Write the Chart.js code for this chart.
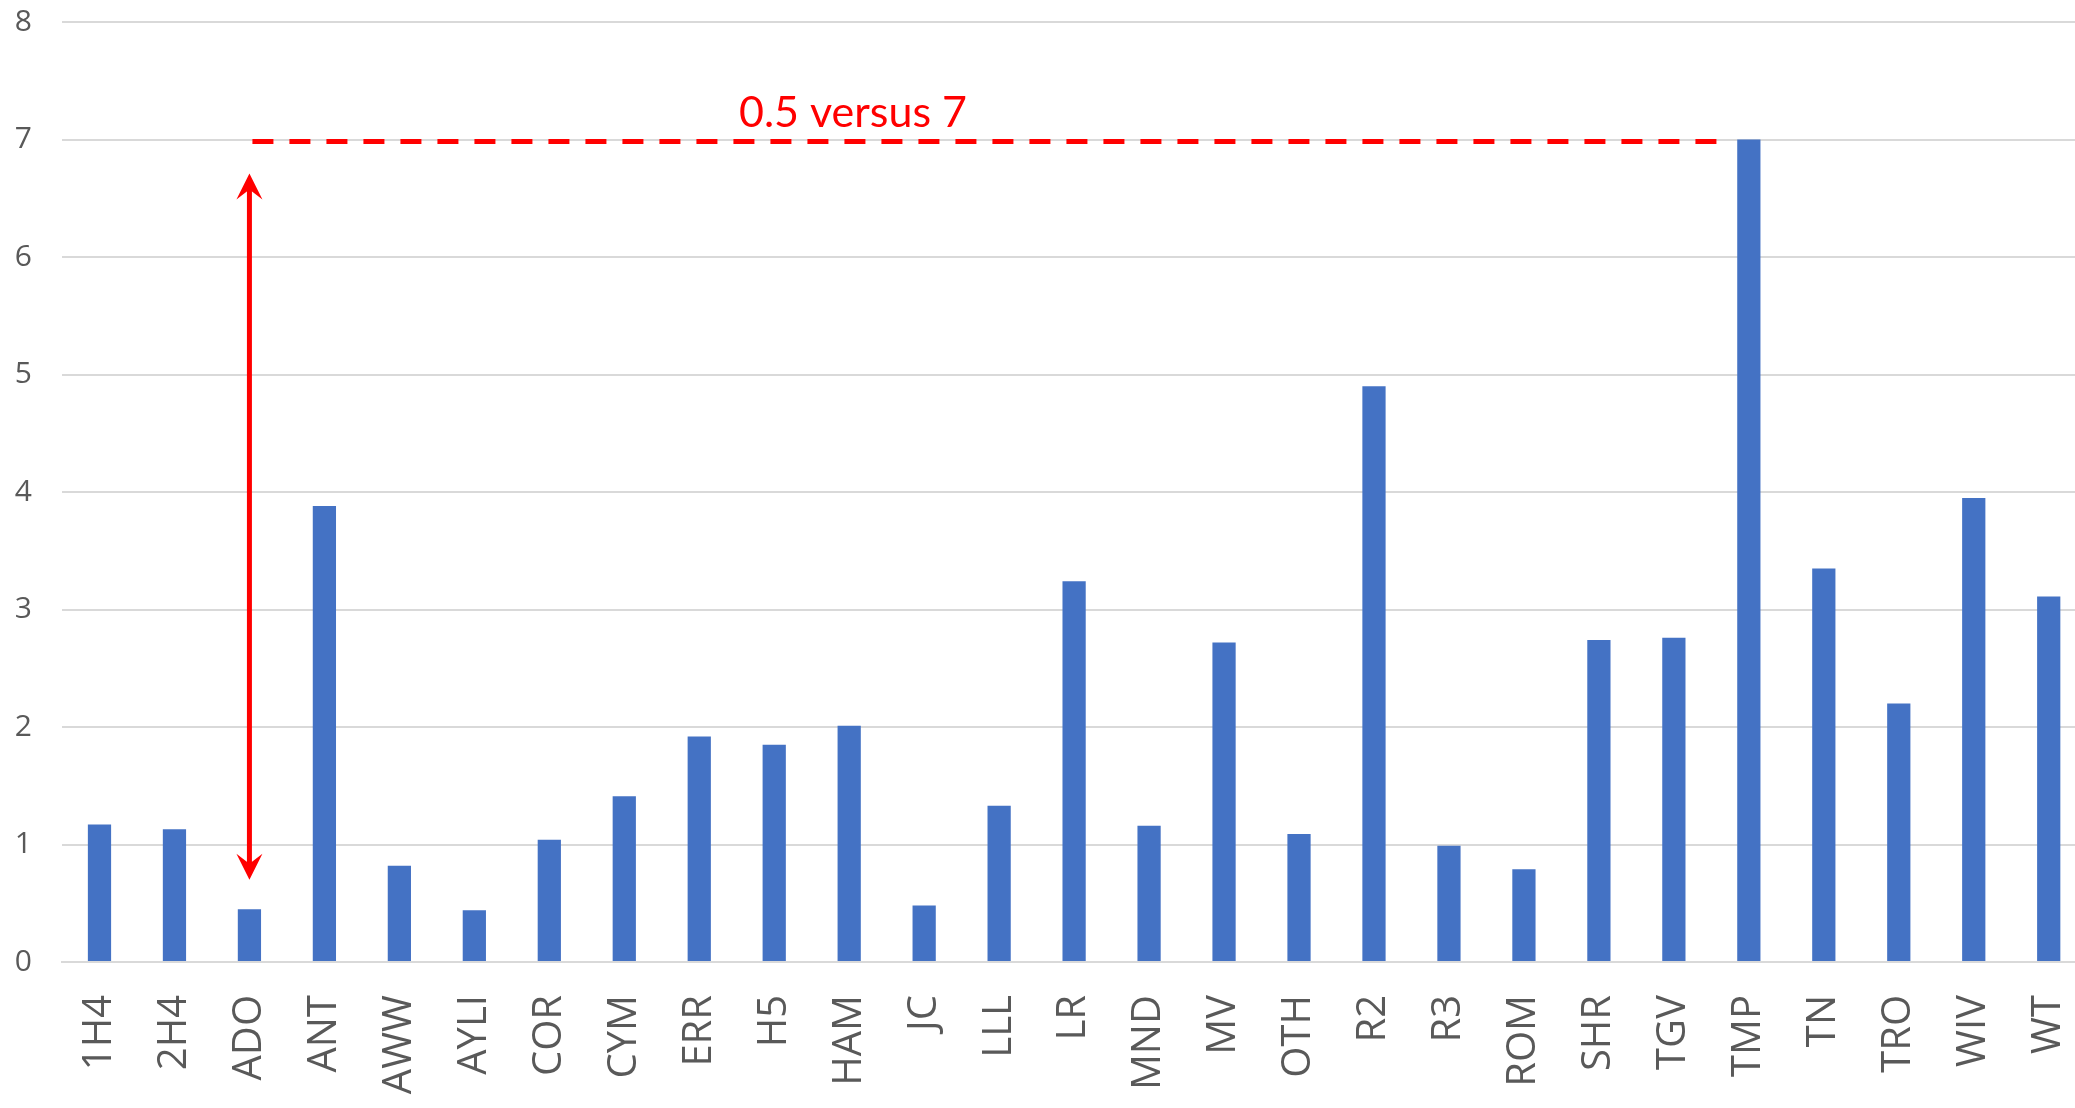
<!DOCTYPE html>
<html lang="en">
  <head>
    <meta charset="utf-8">
    <script src="https://cdn.jsdelivr.net/npm/chart.js@4.4.1/dist/chart.umd.min.js"></script>
    <title>0.5 versus 7</title>
    <style>
      body { margin:0; background:#fff; overflow:hidden; }
      #wrap { width:2130px; height:1137px; margin-top:-29px; }
    </style>
  </head>
  <body>
    <div id="wrap"><canvas id="myChart" width="2130" height="1137"></canvas></div>

    <script>
      // data
      var labels = ['1H4','2H4','ADO','ANT','AWW','AYLI','COR','CYM','ERR','H5','HAM','JC','LLL','LR',
                    'MND','MV','OTH','R2','R3','ROM','SHR','TGV','TMP','TN','TRO','WIV','WT'];
      var values = [1.17,1.13,0.45,3.88,0.82,0.44,1.04,1.41,1.92,1.85,2.01,0.48,1.33,3.24,
                    1.16,2.72,1.09,4.90,0.99,0.79,2.74,2.76,7.0,3.35,2.20,3.95,3.11];
      var yTicks = [0,1,2,3,4,5,6,7,8];

      // annotation: from ADO (0.5) up to the TMP level (7)
      var noteText = '0.5 versus 7';
      var lowIndex = 2;
      var highValue = 7;
      var arrowTop = 6.71;
      var arrowBottom = 0.70;
      var dashEnd = 21.59;
      var textAt = 10.05;

      var red = '#FF0000';

      var notePlugin = {
        id: 'note',
        afterDatasetsDraw: function(chart) {
          var ctx = chart.ctx;
          var xs = chart.scales.x, ys = chart.scales.y;
          var xa = xs.getPixelForValue(lowIndex);
          var yh = ys.getPixelForValue(highValue) + 2;
          ctx.save();
          // dashed line
          ctx.strokeStyle = red;
          ctx.lineWidth = 5;
          ctx.setLineDash([21, 16]);
          ctx.beginPath();
          ctx.moveTo(xa + 3, yh);
          ctx.lineTo(xs.getPixelForValue(dashEnd), yh);
          ctx.stroke();
          ctx.setLineDash([]);

          // double arrow
          var yt = ys.getPixelForValue(arrowTop);
          var yb = ys.getPixelForValue(arrowBottom);
          ctx.lineWidth = 5;
          ctx.beginPath();
          ctx.moveTo(xa, yt + 15);
          ctx.lineTo(xa, yb - 15);
          ctx.stroke();
          ctx.fillStyle = red;
          ctx.beginPath();
          ctx.moveTo(xa, yt);
          ctx.lineTo(xa + 13, yt + 26);
          ctx.lineTo(xa, yt + 16);
          ctx.lineTo(xa - 13, yt + 26);
          ctx.closePath();
          ctx.fill();
          ctx.beginPath();
          ctx.moveTo(xa, yb);
          ctx.lineTo(xa + 13, yb - 26);
          ctx.lineTo(xa, yb - 16);
          ctx.lineTo(xa - 13, yb - 26);
          ctx.closePath();
          ctx.fill();

          // label
          ctx.font = '43px Lato';
          ctx.textAlign = 'center';
          ctx.textBaseline = 'alphabetic';
          ctx.fillText(noteText, xs.getPixelForValue(textAt), yh - 15);
          ctx.restore();
        }
      };

      var myChart = document.getElementById('myChart').getContext('2d');
      var chart = new Chart(myChart, {
        type: 'bar',
        data: {
          labels: labels,
          datasets: [{
            data: values,
            backgroundColor: '#4472C4',
            categoryPercentage: 1,
            barPercentage: 0.31
          }]
        },
        options: {
          responsive: false,
          animation: false,
          layout: { padding: { top: 0, right: 15, left: 0, bottom: 0 } },
          plugins: {
            legend: { display: false },
            tooltip: { enabled: false }
          },
          scales: {
            x: {
              grid: { display: false, drawTicks: false },
              border: { color: '#D9D9D9', width: 2 },
              ticks: {
                color: '#595959',
                font: { family: 'Open Sans', size: 40 },
                minRotation: 90,
                maxRotation: 90,
                padding: 33,
                autoSkip: false
              },
              afterFit: function(axis) { axis.height = 146; }
            },
            y: {
              min: 0,
              max: 8,
              afterBuildTicks: function(axis) {
                axis.ticks = yTicks.map(function(v) { return { value: v }; });
              },
              grid: { color: '#D9D9D9', lineWidth: 2, drawTicks: false },
              border: { display: false },
              ticks: {
                color: '#595959',
                font: { family: 'Open Sans', size: 30, lineHeight: 1.4 },
                padding: 30
              },
              afterFit: function(axis) { axis.width = 62; }
            }
          }
        },
        plugins: [notePlugin]
      });
    </script>
  </body>
</html>
